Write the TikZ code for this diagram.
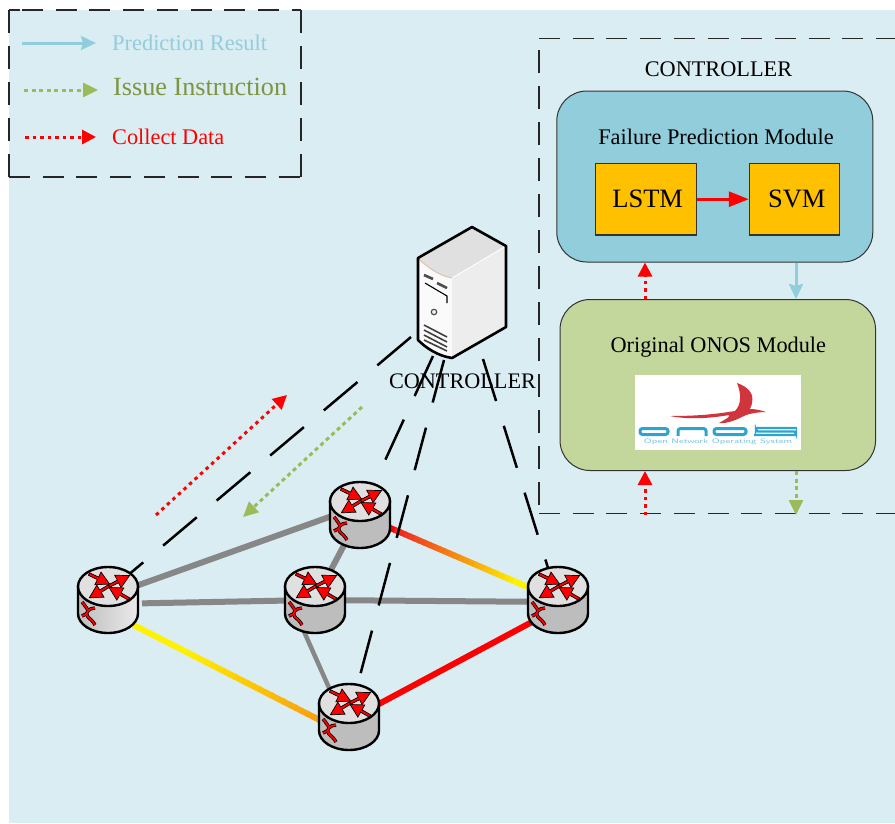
\documentclass[tikz,border=0pt]{standalone}
\usepackage{fontspec}
\setmainfont{Liberation Serif}
\usetikzlibrary{arrows.meta,calc}
\definecolor{bgblue}{HTML}{DAEDF3}
\definecolor{predblue}{HTML}{92CDDC}
\definecolor{issuegreen}{HTML}{9BBB59}
\definecolor{issuetext}{HTML}{7F9440}
\definecolor{onosgreen}{HTML}{C3D69B}
\definecolor{modorange}{HTML}{FFC000}
\definecolor{routergray}{HTML}{BDBDBD}
\definecolor{linkgray}{HTML}{878787}
\definecolor{logoblue}{HTML}{2FA3D0}
\definecolor{logored}{HTML}{D0343C}
\tikzset{
  framebox/.style={draw=black!85,line width=1.3pt,dash pattern=on 21pt off 12.7pt},
  framedown/.style={framebox,dash pattern=on 23pt off 13pt},
  ctrlink/.style={draw=black,line width=2.5pt,dash pattern=on 44pt off 26pt},
  graylink/.style={draw=linkgray,line width=6pt},
  modbox/.style={draw=black!80,line width=1pt,rounded corners=30pt},
  algbox/.style={draw=black!80,line width=1.1pt,fill=modorange,font=\fontsize{26.5}{28}\selectfont},
  modlabel/.style={font=\fontsize{22.3}{24}\selectfont},
  pred/.style={draw=predblue,line width=3pt,-{Stealth[length=15pt,width=14pt,inset=2pt]}},
  issue/.style={draw=issuegreen,line width=3pt,dash pattern=on 4pt off 3.5pt,-{Stealth[length=15pt,width=14pt,inset=0pt]}},
  collect/.style={draw=red,line width=3pt,dash pattern=on 3.5pt off 4pt,-{Stealth[length=14pt,width=14pt,inset=0pt]}},
  routerarrow/.pic={
    \draw[fill=red,draw=black,line width=.7pt] (0,-1.4)--(10,-1.4)--(10,-7)--(23,0)--(10,7)--(10,1.4)--(0,1.4)--cycle;
  },
  pics/routerpic/.style={code={
    \draw[line width=2.4pt,#1] (-30,-13.5) -- (-30,13.5) arc[start angle=180,end angle=0,x radius=30,y radius=19.5] -- (30,-13.5) -- cycle;
    \draw[line width=2.4pt,fill=black!12] (0,-13.5) ellipse[x radius=30,y radius=19.5];
    % four arrows on the lid
    \pic[rotate=-26] at (-19,-26) {routerarrow};
    \pic[rotate=27] at (1,-14) {routerarrow};
    \pic[rotate=211] at (1,-14) {routerarrow};
    \pic[rotate=150] at (21,-1) {routerarrow};
    % the squiggle on the side
    \draw[black,line width=3.4pt] (-26,2) .. controls (-23,5) and (-22,8) .. (-20,10);
    \draw[black,line width=3.4pt] (-13,8) .. controls (-19,8) and (-24,13) .. (-20,17) .. controls (-18,19) and (-15,21) .. (-13,25);
    \draw[black,line width=3.4pt] (-26,16) -- (-22,14);
    \draw[red,line width=1.8pt] (-26,2) .. controls (-23,5) and (-22,8) .. (-20,10);
    \draw[red,line width=1.8pt] (-13,8) .. controls (-19,8) and (-24,13) .. (-20,17) .. controls (-18,19) and (-15,21) .. (-13,25);
    \draw[red,line width=1.8pt] (-26,16) -- (-22,14);
  }}
}
% link whose colour runs from one end to the other
\newcommand{\gradlink}[4]{
  \foreach \i [evaluate=\i as \p using {#4}] in {0,...,39}{
    \draw[line width=6pt,line cap=butt,color=#3!\p!red]
      ($(#1)!\i/40!(#2)$) -- ($(#1)!{(\i+1.2)/40}!(#2)$);
  }
}
\begin{document}
\begin{tikzpicture}[x=1pt,y=-1pt]
\useasboundingbox (0,0) rectangle (895,823);
\fill[bgblue] (9,10) rectangle (895,823);

% routers
\coordinate (left) at (108,600);
\coordinate (top) at (360,515);
\coordinate (mid) at (315,600);
\coordinate (right) at (558,600);
\coordinate (bottom) at (349,717);
\coordinate (srvleft) at (411,337);
\coordinate (srvtop) at (433,356);
\coordinate (srvbottom) at (444,360);
\coordinate (srvright) at (483,359);

% links
\draw[graylink] ([yshift=4pt]left) -- ([yshift=9pt]top);
\draw[graylink,shorten <=34pt] ([yshift=-4pt]left) -- (mid);
\draw[graylink] (mid) -- ([yshift=-2pt]right);
\draw[graylink] (mid) -- (top);
\draw[graylink,line width=4.5pt] ([xshift=-25pt]mid) -- ([xshift=-7pt]bottom);
\gradlink{$(left)+(0,12)$}{$(bottom)+(0,18)$}{yellow}{100-max(\i-12,0)*1.75}
\gradlink{top}{right}{yellow}{min(max(\i-6,0)*4,100)}
\draw[red,line width=6pt] ([yshift=-3pt]bottom) -- ([yshift=-8pt]right);

% server links
\draw[ctrlink] (srvleft) -- ([yshift=8pt]left);
\draw[ctrlink] (srvtop) -- (top);
\draw[ctrlink] (srvbottom) -- (bottom);
\draw[ctrlink] (srvright) -- (right);

\pic at (left) {routerpic={left color=routergray,right color=black!8}};
\pic at (top) {routerpic={fill=routergray}};
\pic at (mid) {routerpic={fill=routergray}};
\pic at (right) {routerpic={fill=routergray}};
\pic at (bottom) {routerpic={fill=routergray}};

% server
\fill[black!7] (418,258) -- (472,227) -- (506,246) -- (506,327) -- (452,358) .. controls (438,356) and (426,348) .. (418,340) -- cycle;
\fill[black!12] (418,258) -- (472,227) -- (506,246) -- (452,278) .. controls (440,276) and (428,268) .. (418,258);
\fill[black!2] (418,258) .. controls (428,268) and (440,276) .. (452,278) -- (452,358) .. controls (438,356) and (426,348) .. (418,340) -- cycle;
\draw[brown!50,line width=.9pt] (419,259) .. controls (428,268) and (440,276) .. (452,278);
\draw[white,line width=.9pt] (452,278) -- (506,246);
\draw[line width=2.6pt,line join=round] (418,258) -- (472,227) -- (506,246) -- (506,327) -- (452,358) .. controls (438,356) and (426,348) .. (418,340) -- cycle;
\draw[black!70,line width=2.6pt] (424,275) -- (433,279);
\draw[black!70,line width=2.6pt] (437,283) -- (447,288);
\draw[black,line width=1.1pt] (425,283) -- (447,296) -- (447,303);
\draw[black!70,line width=1.2pt] (434,312) circle[radius=2.7];
\draw[black!75,line width=1.6pt] (424,325) -- (447,337);
\draw[black!75,line width=1.6pt] (424,330) -- (447,342);
\draw[black!75,line width=1.6pt] (424,335) -- (447,347);
\draw[black!75,line width=1.6pt] (424,340) -- (447,351);
\node[font=\fontsize{22.2}{24}\selectfont] (srvlabel) at (462.5,381) {CONTROLLER};

% the two flow arrows
\coordinate (upfrom) at (156,515);
\coordinate (upto) at (287,395);
\coordinate (downfrom) at (362,407);
\coordinate (downto) at (243,517);
\draw[collect] (upfrom) -- (upto);
\draw[issue] (downfrom) -- (downto);

% legend
\draw[framebox] (9,10) -- (20,10) (22,10) -- (301,10);
\draw[framedown] (301,10) -- (301,177);
\draw[framedown] (9,10) -- (9,177);
\draw[framebox] (9,177) -- (301,177);
\coordinate (preda) at (22,43);
\coordinate (predb) at (96,43);
\coordinate (issa) at (24,90);
\coordinate (issb) at (98,90);
\coordinate (cola) at (25,137);
\coordinate (colb) at (96,137);
\draw[pred] (preda) -- (predb);
\draw[issue] (issa) -- (issb);
\draw[collect] (cola) -- (colb);
\node[anchor=west,inner sep=0,text=predblue,font=\fontsize{22.4}{24}\selectfont] (predtext) at (112,43) {Prediction Result};
\node[anchor=west,inner sep=0,text=issuetext,font=\fontsize{26.2}{28}\selectfont] (issuelabel) at (113,87) {Issue Instruction};
\node[anchor=west,inner sep=0,text=red,font=\fontsize{22.3}{24}\selectfont] (coltext) at (112,137) {Collect Data};

% controller frame
\draw[framebox] (539,38.5) -- (895,38.5);
\draw[framedown] (539,50) -- (539,513.5);
\draw[framebox] (539,513.5) -- (895,513.5);
\node[modlabel] (ctrltitle) at (718.5,69) {CONTROLLER};
\node[modbox,fill=predblue,minimum width=316pt,minimum height=171pt] (failure) at (714.8,176.5) {};
\node[modbox,fill=onosgreen,minimum width=315.5pt,minimum height=171pt] (original) at (717.8,385) {};
\node[modlabel] (failtext) at (716,137) {Failure Prediction Module};
\node[modlabel] (origtext) at (718.3,347) {Original ONOS Module};
\node[algbox,minimum width=101pt,minimum height=71.5pt] (lstm) at (646.2,199.2) {\kern3pt LSTM};
\node[algbox,minimum width=90pt,minimum height=71.5pt] (svm) at (794.3,199.2) {\kern5pt SVM};
\draw[red,line width=3pt,-{Stealth[length=20pt,width=15pt,inset=0pt]}] (lstm) -- (svm);

% links between the modules
\draw[collect] (original.north -| 645,0) -- (failure.south -| 645,0);
\draw[pred] (failure.south -| 796,0) -- (original.north -| 796,0);
\coordinate (inbottom) at (645,515);
\coordinate (outbottom) at (796,515);
\draw[collect] (inbottom) -- (original.south -| inbottom);
\draw[issue] (original.south -| outbottom) -- (outbottom);

% onos logo
\fill[white] (635,375) rectangle (801,450);
\fill[logored] (737,383) .. controls (748,387) and (757,394) .. (750,409) .. controls (755,409) and (760,410) .. (766,412) .. controls (760,412) and (752,413) .. (746,415) .. controls (738,419) and (728,424) .. (719,423) .. controls (726,419) and (730,417) .. (729,415) .. controls (712,418) and (690,420) .. (670,416) .. controls (700,416) and (716,414) .. (735,411) .. controls (742,404) and (741,393) .. (737,383) -- cycle;
\draw[logoblue,line width=3pt,rounded corners=2.5pt] (640,428.5) rectangle (668,434.5);
\draw[logoblue,line width=3pt,rounded corners=2.5pt] (678,436) -- (678,428.5) -- (706,428.5) -- (706,436);
\draw[logoblue,line width=3pt,rounded corners=2.5pt] (714,428.5) rectangle (746,434.5);
\draw[logoblue,line width=2.4pt,rounded corners=2pt] (797,428) -- (756,428) -- (756,431.5) -- (796,431.5) -- (796,435) -- (754,435);
\node[inner sep=0,text=logoblue!65,font=\sffamily\fontsize{6.5}{7}\selectfont] (onostext) at (718,441.5) {\scalebox{1.55}[1]{Open Network Operating System}};
\end{tikzpicture}
\end{document}
